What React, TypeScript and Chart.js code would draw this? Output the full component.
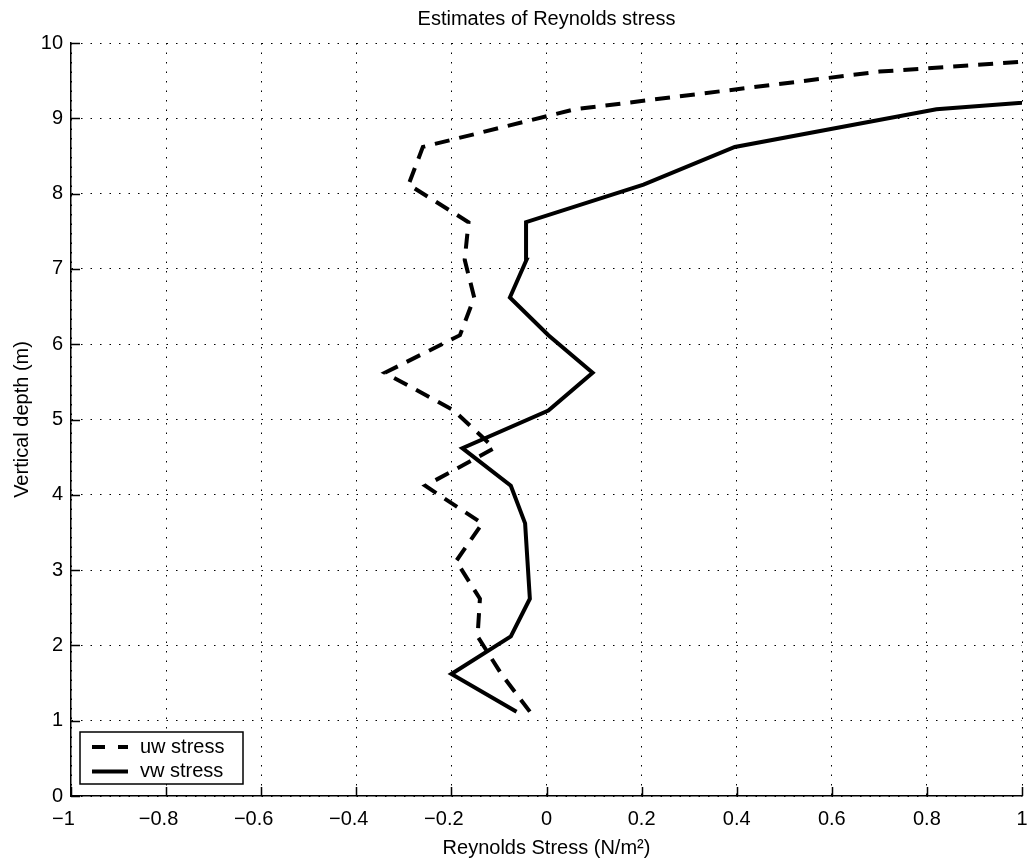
import React, { useEffect, useRef } from "react";
import { Chart, registerables } from "chart.js";

Chart.register(...registerables);

const TITLE = "Estimates of Reynolds stress";
const X_TITLE = "Reynolds Stress (N/m\u00B2)";
const Y_TITLE = "Vertical depth (m)";
const SERIES_LABELS = ["uw stress", "vw stress"];

// depth of each estimate (m)
const depths = [1.12, 1.62, 2.12, 2.62, 3.12, 3.62, 4.12, 4.62, 5.12, 5.62, 6.12, 6.62, 7.12, 7.62, 8.12, 8.62, 9.12, 9.62, 10.12];
// uw Reynolds stress (N/m^2)
const uwStress = [-0.035, -0.095, -0.145, -0.14, -0.19, -0.135, -0.255, -0.11, -0.195, -0.34, -0.182, -0.152, -0.172, -0.164, -0.29, -0.26, 0.06, 0.7, 1.85];
// vw Reynolds stress (N/m^2)
const vwStress = [-0.063, -0.2, -0.075, -0.035, -0.04, -0.045, -0.075, -0.177, 0.004, 0.097, 0.004, -0.077, -0.042, -0.043, 0.204, 0.396, 0.82, 1.85, null];

const xTicks = [-1, -0.8, -0.6, -0.4, -0.2, 0, 0.2, 0.4, 0.6, 0.8, 1];
const yTicks = [0, 1, 2, 3, 4, 5, 6, 7, 8, 9, 10];

const FONT = '"Liberation Sans", Arial, Helvetica, sans-serif';

function fmtX(v: number): string {
  const r = Math.round(v * 10) / 10;
  if (r === 0) return "0";
  const s = String(Math.abs(r));
  return r < 0 ? "\u2212" + s + "  \u2009" : s;
}

function toPoints(vals: (number | null)[]) {
  const pts: { x: number; y: number }[] = [];
  vals.forEach((v, i) => {
    if (v !== null) pts.push({ x: v, y: depths[i] });
  });
  return pts;
}

const decorPlugin = {
  id: "decor",
  afterDraw(chart: any) {
    const { ctx, chartArea: a, scales } = chart;
    const xs = scales.x;
    const ys = scales.y;
    ctx.save();
    ctx.setLineDash([]);
    ctx.strokeStyle = "#000";
    ctx.lineWidth = 1.5;
    ctx.beginPath();
    xTicks.forEach((v) => {
      const px = Math.round(xs.getPixelForValue(v)) + 0.5;
      ctx.moveTo(px, a.bottom);
      ctx.lineTo(px, a.bottom - 9);
    });
    yTicks.forEach((v) => {
      const py = Math.round(ys.getPixelForValue(v)) + 0.5;
      ctx.moveTo(a.left, py);
      ctx.lineTo(a.left + 9, py);
    });
    ctx.stroke();

    // legend
    const bx = a.left + 9;
    const by = a.bottom - 64;
    const bw = 163;
    const bh = 52;
    ctx.fillStyle = "#fff";
    ctx.fillRect(bx, by, bw, bh);
    ctx.lineWidth = 1.5;
    ctx.strokeRect(bx, by, bw, bh);
    const rows = [by + 15, by + 39.5];
    const dashes = [[13, 13], []];
    rows.forEach((ry, i) => {
      ctx.beginPath();
      ctx.setLineDash(dashes[i]);
      ctx.lineWidth = 4;
      ctx.moveTo(bx + 12, ry);
      ctx.lineTo(bx + 48, ry);
      ctx.stroke();
      ctx.setLineDash([]);
      ctx.fillStyle = "#000";
      ctx.font = `20px ${FONT}`;
      ctx.textBaseline = "middle";
      ctx.textAlign = "left";
      ctx.fillText(SERIES_LABELS[i], bx + 60, ry);
    });
    ctx.restore();
  },
};

export default function App() {
  const ref = useRef<HTMLCanvasElement>(null);
  useEffect(() => {
    const gridCfg = {
      display: true,
      color: "#000",
      lineWidth: 1,
      drawTicks: false,
      drawOnChartArea: true,
    };
    const borderCfg = { display: true, color: "#000", width: 1.5, dash: [1.5, 8] };
    const chart = new Chart(ref.current as HTMLCanvasElement, {
      type: "scatter",
      data: {
        datasets: [
          {
            label: SERIES_LABELS[0],
            data: toPoints(uwStress),
            showLine: true,
            borderColor: "#000",
            backgroundColor: "#000",
            borderWidth: 4,
            borderDash: [15, 10],
            pointRadius: 0,
            tension: 0,
            clip: 0,
          },
          {
            label: SERIES_LABELS[1],
            data: toPoints(vwStress),
            showLine: true,
            borderColor: "#000",
            backgroundColor: "#000",
            borderWidth: 4,
            pointRadius: 0,
            tension: 0,
            clip: 0,
          },
        ],
      },
      options: {
        responsive: false,
        animation: false,
        events: [],
        layout: { padding: { top: 0, right: 6, bottom: 0, left: 0 } },
        plugins: {
          legend: { display: false },
          tooltip: { enabled: false },
          title: {
            display: true,
            text: TITLE,
            fullSize: false,
            color: "#000",
            font: { family: FONT, size: 20, weight: "normal", lineHeight: 1.2 },
            padding: { top: 7.5, bottom: 11.5 },
          },
        },
        scales: {
          x: {
            type: "linear",
            position: "bottom",
            min: -1,
            max: 1,
            afterBuildTicks: (s: any) => {
              s.ticks = xTicks.map((v) => ({ value: v }));
            },
            afterFit: (s: any) => {
              s.height = 63;
              s.paddingLeft = 0;
              s.paddingRight = 0;
              s.paddingTop = 0;
              s.paddingBottom = 0;
            },
            grid: gridCfg,
            border: borderCfg,
            ticks: {
              autoSkip: false,
              maxRotation: 0,
              padding: 11,
              color: "#000",
              font: { family: FONT, size: 20 },
              callback: (v: any) => fmtX(Number(v)),
            },
            title: {
              display: true,
              text: X_TITLE,
              color: "#000",
              font: { family: FONT, size: 20, lineHeight: 1.1 },
              padding: { top: 0, bottom: 0 },
            },
          },
          y: {
            type: "linear",
            position: "left",
            min: 0,
            max: 10,
            afterBuildTicks: (s: any) => {
              s.ticks = yTicks.map((v) => ({ value: v }));
            },
            afterFit: (s: any) => {
              s.width = 71;
              s.paddingLeft = 0;
              s.paddingRight = 0;
              s.paddingTop = 0;
              s.paddingBottom = 0;
            },
            grid: gridCfg,
            border: borderCfg,
            ticks: {
              autoSkip: false,
              padding: 8,
              color: "#000",
              font: { family: FONT, size: 20 },
              callback: (v: any) => String(Math.round(Number(v))),
            },
            title: {
              display: true,
              text: Y_TITLE,
              color: "#000",
              font: { family: FONT, size: 20, lineHeight: 1.2 },
              padding: { top: 10, bottom: 0 },
            },
          },
        },
      },
      plugins: [decorPlugin],
    } as any);
    return () => chart.destroy();
  }, []);
  return (
    <div style={{ position: "absolute", left: 0, top: 0, width: 1028, height: 859, background: "#fff" }}>
      <canvas ref={ref} width={1028} height={859} style={{ display: "block", width: 1028, height: 859 }} />
    </div>
  );
}
